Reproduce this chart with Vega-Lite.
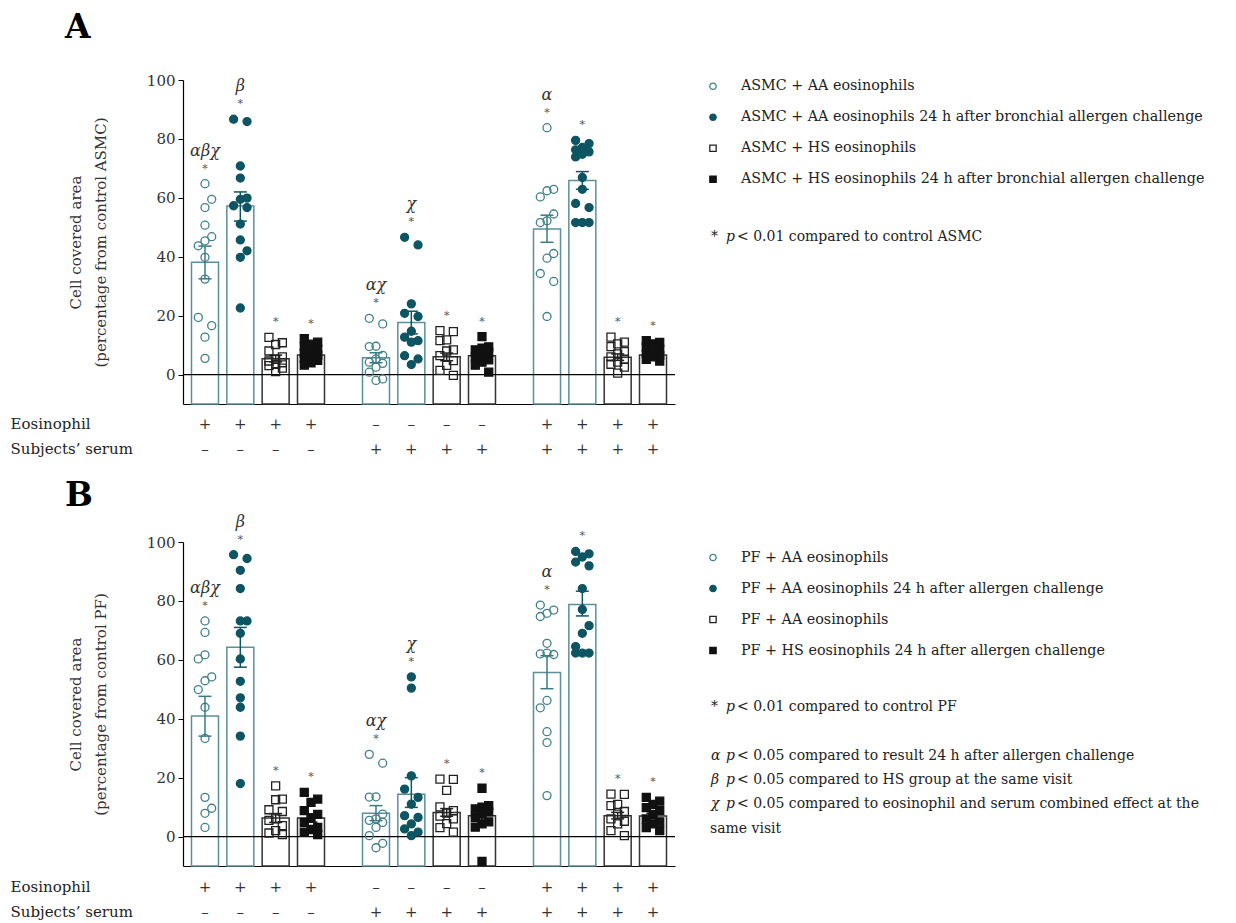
{
  "$schema": "https://vega.github.io/schema/vega-lite/v6.json",
  "background": "white",
  "padding": {"left": 10, "top": 12, "right": 10, "bottom": 0},
  "config": {
    "view": {"stroke": null},
    "font": "DejaVu Serif",
    "axis": {"grid": false, "labelFont": "DejaVu Serif", "titleFont": "DejaVu Serif"},
    "title": {"font": "DejaVu Serif"}
  },
  "datasets": {
    "values": [
      {"panel": "A", "group": "Eos", "series": "AA", "mean": 38.1, "lower": 32.5, "upper": 43.6, "sig": "αβχ"},
      {"panel": "A", "group": "Eos", "series": "AA 24 h", "mean": 57.2, "lower": 52.1, "upper": 62.0, "sig": "β"},
      {"panel": "A", "group": "Eos", "series": "HS", "mean": 5.4, "lower": 4.3, "upper": 6.6, "sig": ""},
      {"panel": "A", "group": "Eos", "series": "HS 24 h", "mean": 6.6, "lower": 5.8, "upper": 7.5, "sig": ""},
      {"panel": "A", "group": "Serum", "series": "AA", "mean": 5.7, "lower": 4.0, "upper": 7.4, "sig": "αχ"},
      {"panel": "A", "group": "Serum", "series": "AA 24 h", "mean": 17.7, "lower": 13.8, "upper": 21.5, "sig": "χ"},
      {"panel": "A", "group": "Serum", "series": "HS", "mean": 6.0, "lower": 4.7, "upper": 7.3, "sig": ""},
      {"panel": "A", "group": "Serum", "series": "HS 24 h", "mean": 6.4, "lower": 5.2, "upper": 7.6, "sig": ""},
      {"panel": "A", "group": "Eos + serum", "series": "AA", "mean": 49.4, "lower": 44.9, "upper": 54.1, "sig": "α"},
      {"panel": "A", "group": "Eos + serum", "series": "AA 24 h", "mean": 65.9, "lower": 62.9, "upper": 68.9, "sig": ""},
      {"panel": "A", "group": "Eos + serum", "series": "HS", "mean": 5.9, "lower": 4.8, "upper": 7.0, "sig": ""},
      {"panel": "A", "group": "Eos + serum", "series": "HS 24 h", "mean": 6.6, "lower": 5.8, "upper": 7.4, "sig": ""},
      {"panel": "B", "group": "Eos", "series": "AA", "mean": 40.9, "lower": 34.1, "upper": 47.6, "sig": "αβχ"},
      {"panel": "B", "group": "Eos", "series": "AA 24 h", "mean": 64.3, "lower": 57.5, "upper": 71.0, "sig": "β"},
      {"panel": "B", "group": "Eos", "series": "HS", "mean": 6.3, "lower": 4.8, "upper": 7.8, "sig": ""},
      {"panel": "B", "group": "Eos", "series": "HS 24 h", "mean": 6.3, "lower": 4.9, "upper": 7.7, "sig": ""},
      {"panel": "B", "group": "Serum", "series": "AA", "mean": 7.9, "lower": 5.4, "upper": 10.5, "sig": "αχ"},
      {"panel": "B", "group": "Serum", "series": "AA 24 h", "mean": 14.4, "lower": 9.9, "upper": 20.0, "sig": "χ"},
      {"panel": "B", "group": "Serum", "series": "HS", "mean": 8.2, "lower": 6.9, "upper": 9.5, "sig": ""},
      {"panel": "B", "group": "Serum", "series": "HS 24 h", "mean": 7.1, "lower": 5.4, "upper": 8.8, "sig": ""},
      {"panel": "B", "group": "Eos + serum", "series": "AA", "mean": 55.7, "lower": 50.2, "upper": 61.4, "sig": "α"},
      {"panel": "B", "group": "Eos + serum", "series": "AA 24 h", "mean": 78.8, "lower": 74.9, "upper": 83.3, "sig": ""},
      {"panel": "B", "group": "Eos + serum", "series": "HS", "mean": 7.1, "lower": 6.0, "upper": 8.2, "sig": ""},
      {"panel": "B", "group": "Eos + serum", "series": "HS 24 h", "mean": 7.0, "lower": 6.1, "upper": 7.9, "sig": ""},

      {"panel": "A", "group": "Eos", "series": "AA", "value": 64.8}, {"panel": "A", "group": "Eos", "series": "AA", "value": 59.5},
      {"panel": "A", "group": "Eos", "series": "AA", "value": 56.7}, {"panel": "A", "group": "Eos", "series": "AA", "value": 50.7},
      {"panel": "A", "group": "Eos", "series": "AA", "value": 46.8}, {"panel": "A", "group": "Eos", "series": "AA", "value": 45.4},
      {"panel": "A", "group": "Eos", "series": "AA", "value": 43.7}, {"panel": "A", "group": "Eos", "series": "AA", "value": 39.8},
      {"panel": "A", "group": "Eos", "series": "AA", "value": 32.4}, {"panel": "A", "group": "Eos", "series": "AA", "value": 19.4},
      {"panel": "A", "group": "Eos", "series": "AA", "value": 16.6}, {"panel": "A", "group": "Eos", "series": "AA", "value": 12.7},
      {"panel": "A", "group": "Eos", "series": "AA", "value": 5.5},
      {"panel": "A", "group": "Eos", "series": "AA 24 h", "value": 86.7}, {"panel": "A", "group": "Eos", "series": "AA 24 h", "value": 85.9},
      {"panel": "A", "group": "Eos", "series": "AA 24 h", "value": 70.8}, {"panel": "A", "group": "Eos", "series": "AA 24 h", "value": 66.7},
      {"panel": "A", "group": "Eos", "series": "AA 24 h", "value": 59.9}, {"panel": "A", "group": "Eos", "series": "AA 24 h", "value": 59.5},
      {"panel": "A", "group": "Eos", "series": "AA 24 h", "value": 57.3}, {"panel": "A", "group": "Eos", "series": "AA 24 h", "value": 56.7},
      {"panel": "A", "group": "Eos", "series": "AA 24 h", "value": 51.1}, {"panel": "A", "group": "Eos", "series": "AA 24 h", "value": 45.7},
      {"panel": "A", "group": "Eos", "series": "AA 24 h", "value": 42.0}, {"panel": "A", "group": "Eos", "series": "AA 24 h", "value": 39.8},
      {"panel": "A", "group": "Eos", "series": "AA 24 h", "value": 22.6},
      {"panel": "A", "group": "Eos", "series": "HS", "value": 12.6}, {"panel": "A", "group": "Eos", "series": "HS", "value": 10.8},
      {"panel": "A", "group": "Eos", "series": "HS", "value": 10.2}, {"panel": "A", "group": "Eos", "series": "HS", "value": 8.0},
      {"panel": "A", "group": "Eos", "series": "HS", "value": 6.0}, {"panel": "A", "group": "Eos", "series": "HS", "value": 5.2},
      {"panel": "A", "group": "Eos", "series": "HS", "value": 4.6}, {"panel": "A", "group": "Eos", "series": "HS", "value": 4.0},
      {"panel": "A", "group": "Eos", "series": "HS", "value": 3.5}, {"panel": "A", "group": "Eos", "series": "HS", "value": 3.0},
      {"panel": "A", "group": "Eos", "series": "HS", "value": 2.2}, {"panel": "A", "group": "Eos", "series": "HS", "value": 1.0},
      {"panel": "A", "group": "Eos", "series": "HS 24 h", "value": 12.2}, {"panel": "A", "group": "Eos", "series": "HS 24 h", "value": 11.0},
      {"panel": "A", "group": "Eos", "series": "HS 24 h", "value": 10.3}, {"panel": "A", "group": "Eos", "series": "HS 24 h", "value": 9.5},
      {"panel": "A", "group": "Eos", "series": "HS 24 h", "value": 8.6}, {"panel": "A", "group": "Eos", "series": "HS 24 h", "value": 7.8},
      {"panel": "A", "group": "Eos", "series": "HS 24 h", "value": 7.2}, {"panel": "A", "group": "Eos", "series": "HS 24 h", "value": 6.6},
      {"panel": "A", "group": "Eos", "series": "HS 24 h", "value": 6.1}, {"panel": "A", "group": "Eos", "series": "HS 24 h", "value": 5.5},
      {"panel": "A", "group": "Eos", "series": "HS 24 h", "value": 4.8}, {"panel": "A", "group": "Eos", "series": "HS 24 h", "value": 4.0},
      {"panel": "A", "group": "Eos", "series": "HS 24 h", "value": 3.2},
      {"panel": "A", "group": "Serum", "series": "AA", "value": 19.1}, {"panel": "A", "group": "Serum", "series": "AA", "value": 17.2},
      {"panel": "A", "group": "Serum", "series": "AA", "value": 9.6}, {"panel": "A", "group": "Serum", "series": "AA", "value": 9.5},
      {"panel": "A", "group": "Serum", "series": "AA", "value": 6.5}, {"panel": "A", "group": "Serum", "series": "AA", "value": 5.3},
      {"panel": "A", "group": "Serum", "series": "AA", "value": 4.2}, {"panel": "A", "group": "Serum", "series": "AA", "value": 3.8},
      {"panel": "A", "group": "Serum", "series": "AA", "value": 2.5}, {"panel": "A", "group": "Serum", "series": "AA", "value": 0.8},
      {"panel": "A", "group": "Serum", "series": "AA", "value": -1.5}, {"panel": "A", "group": "Serum", "series": "AA", "value": -2.0},
      {"panel": "A", "group": "Serum", "series": "AA 24 h", "value": 46.6}, {"panel": "A", "group": "Serum", "series": "AA 24 h", "value": 44.0},
      {"panel": "A", "group": "Serum", "series": "AA 24 h", "value": 24.0}, {"panel": "A", "group": "Serum", "series": "AA 24 h", "value": 20.8},
      {"panel": "A", "group": "Serum", "series": "AA 24 h", "value": 19.7}, {"panel": "A", "group": "Serum", "series": "AA 24 h", "value": 14.7},
      {"panel": "A", "group": "Serum", "series": "AA 24 h", "value": 12.7}, {"panel": "A", "group": "Serum", "series": "AA 24 h", "value": 11.5},
      {"panel": "A", "group": "Serum", "series": "AA 24 h", "value": 11.0}, {"panel": "A", "group": "Serum", "series": "AA 24 h", "value": 6.4},
      {"panel": "A", "group": "Serum", "series": "AA 24 h", "value": 5.3}, {"panel": "A", "group": "Serum", "series": "AA 24 h", "value": 3.4},
      {"panel": "A", "group": "Serum", "series": "HS", "value": 14.9}, {"panel": "A", "group": "Serum", "series": "HS", "value": 14.6},
      {"panel": "A", "group": "Serum", "series": "HS", "value": 11.8}, {"panel": "A", "group": "Serum", "series": "HS", "value": 11.5},
      {"panel": "A", "group": "Serum", "series": "HS", "value": 8.4}, {"panel": "A", "group": "Serum", "series": "HS", "value": 8.0},
      {"panel": "A", "group": "Serum", "series": "HS", "value": 6.4}, {"panel": "A", "group": "Serum", "series": "HS", "value": 4.7},
      {"panel": "A", "group": "Serum", "series": "HS", "value": 3.1}, {"panel": "A", "group": "Serum", "series": "HS", "value": 1.4},
      {"panel": "A", "group": "Serum", "series": "HS", "value": -0.3},
      {"panel": "A", "group": "Serum", "series": "HS 24 h", "value": 12.9}, {"panel": "A", "group": "Serum", "series": "HS 24 h", "value": 9.4},
      {"panel": "A", "group": "Serum", "series": "HS 24 h", "value": 9.0}, {"panel": "A", "group": "Serum", "series": "HS 24 h", "value": 8.4},
      {"panel": "A", "group": "Serum", "series": "HS 24 h", "value": 7.6}, {"panel": "A", "group": "Serum", "series": "HS 24 h", "value": 6.4},
      {"panel": "A", "group": "Serum", "series": "HS 24 h", "value": 5.9}, {"panel": "A", "group": "Serum", "series": "HS 24 h", "value": 5.0},
      {"panel": "A", "group": "Serum", "series": "HS 24 h", "value": 4.2}, {"panel": "A", "group": "Serum", "series": "HS 24 h", "value": 3.2},
      {"panel": "A", "group": "Serum", "series": "HS 24 h", "value": 0.8},
      {"panel": "A", "group": "Eos + serum", "series": "AA", "value": 83.8}, {"panel": "A", "group": "Eos + serum", "series": "AA", "value": 62.9},
      {"panel": "A", "group": "Eos + serum", "series": "AA", "value": 62.4}, {"panel": "A", "group": "Eos + serum", "series": "AA", "value": 60.3},
      {"panel": "A", "group": "Eos + serum", "series": "AA", "value": 54.5}, {"panel": "A", "group": "Eos + serum", "series": "AA", "value": 52.2},
      {"panel": "A", "group": "Eos + serum", "series": "AA", "value": 51.6}, {"panel": "A", "group": "Eos + serum", "series": "AA", "value": 41.1},
      {"panel": "A", "group": "Eos + serum", "series": "AA", "value": 39.5}, {"panel": "A", "group": "Eos + serum", "series": "AA", "value": 34.3},
      {"panel": "A", "group": "Eos + serum", "series": "AA", "value": 31.6}, {"panel": "A", "group": "Eos + serum", "series": "AA", "value": 19.7},
      {"panel": "A", "group": "Eos + serum", "series": "AA 24 h", "value": 79.5}, {"panel": "A", "group": "Eos + serum", "series": "AA 24 h", "value": 78.4},
      {"panel": "A", "group": "Eos + serum", "series": "AA 24 h", "value": 77.1}, {"panel": "A", "group": "Eos + serum", "series": "AA 24 h", "value": 76.3},
      {"panel": "A", "group": "Eos + serum", "series": "AA 24 h", "value": 75.6}, {"panel": "A", "group": "Eos + serum", "series": "AA 24 h", "value": 74.8},
      {"panel": "A", "group": "Eos + serum", "series": "AA 24 h", "value": 73.9}, {"panel": "A", "group": "Eos + serum", "series": "AA 24 h", "value": 66.9},
      {"panel": "A", "group": "Eos + serum", "series": "AA 24 h", "value": 62.9}, {"panel": "A", "group": "Eos + serum", "series": "AA 24 h", "value": 58.1},
      {"panel": "A", "group": "Eos + serum", "series": "AA 24 h", "value": 56.7}, {"panel": "A", "group": "Eos + serum", "series": "AA 24 h", "value": 51.6},
      {"panel": "A", "group": "Eos + serum", "series": "AA 24 h", "value": 51.6}, {"panel": "A", "group": "Eos + serum", "series": "AA 24 h", "value": 51.6},
      {"panel": "A", "group": "Eos + serum", "series": "HS", "value": 12.7}, {"panel": "A", "group": "Eos + serum", "series": "HS", "value": 11.0},
      {"panel": "A", "group": "Eos + serum", "series": "HS", "value": 10.4}, {"panel": "A", "group": "Eos + serum", "series": "HS", "value": 9.5},
      {"panel": "A", "group": "Eos + serum", "series": "HS", "value": 7.8}, {"panel": "A", "group": "Eos + serum", "series": "HS", "value": 7.0},
      {"panel": "A", "group": "Eos + serum", "series": "HS", "value": 6.0}, {"panel": "A", "group": "Eos + serum", "series": "HS", "value": 5.2},
      {"panel": "A", "group": "Eos + serum", "series": "HS", "value": 4.2}, {"panel": "A", "group": "Eos + serum", "series": "HS", "value": 3.5},
      {"panel": "A", "group": "Eos + serum", "series": "HS", "value": 2.5}, {"panel": "A", "group": "Eos + serum", "series": "HS", "value": 0.5},
      {"panel": "A", "group": "Eos + serum", "series": "HS 24 h", "value": 11.5}, {"panel": "A", "group": "Eos + serum", "series": "HS 24 h", "value": 10.9},
      {"panel": "A", "group": "Eos + serum", "series": "HS 24 h", "value": 10.4}, {"panel": "A", "group": "Eos + serum", "series": "HS 24 h", "value": 9.3},
      {"panel": "A", "group": "Eos + serum", "series": "HS 24 h", "value": 8.5}, {"panel": "A", "group": "Eos + serum", "series": "HS 24 h", "value": 7.6},
      {"panel": "A", "group": "Eos + serum", "series": "HS 24 h", "value": 7.0}, {"panel": "A", "group": "Eos + serum", "series": "HS 24 h", "value": 6.5},
      {"panel": "A", "group": "Eos + serum", "series": "HS 24 h", "value": 6.0}, {"panel": "A", "group": "Eos + serum", "series": "HS 24 h", "value": 5.2},
      {"panel": "A", "group": "Eos + serum", "series": "HS 24 h", "value": 4.6},

      {"panel": "B", "group": "Eos", "series": "AA", "value": 73.2}, {"panel": "B", "group": "Eos", "series": "AA", "value": 69.3},
      {"panel": "B", "group": "Eos", "series": "AA", "value": 61.7}, {"panel": "B", "group": "Eos", "series": "AA", "value": 60.3},
      {"panel": "B", "group": "Eos", "series": "AA", "value": 54.2}, {"panel": "B", "group": "Eos", "series": "AA", "value": 52.9},
      {"panel": "B", "group": "Eos", "series": "AA", "value": 49.9}, {"panel": "B", "group": "Eos", "series": "AA", "value": 43.9},
      {"panel": "B", "group": "Eos", "series": "AA", "value": 33.3}, {"panel": "B", "group": "Eos", "series": "AA", "value": 13.3},
      {"panel": "B", "group": "Eos", "series": "AA", "value": 9.6}, {"panel": "B", "group": "Eos", "series": "AA", "value": 7.9},
      {"panel": "B", "group": "Eos", "series": "AA", "value": 3.1},
      {"panel": "B", "group": "Eos", "series": "AA 24 h", "value": 95.7}, {"panel": "B", "group": "Eos", "series": "AA 24 h", "value": 94.4},
      {"panel": "B", "group": "Eos", "series": "AA 24 h", "value": 90.4}, {"panel": "B", "group": "Eos", "series": "AA 24 h", "value": 84.2},
      {"panel": "B", "group": "Eos", "series": "AA 24 h", "value": 73.2}, {"panel": "B", "group": "Eos", "series": "AA 24 h", "value": 73.2},
      {"panel": "B", "group": "Eos", "series": "AA 24 h", "value": 69.0}, {"panel": "B", "group": "Eos", "series": "AA 24 h", "value": 60.3},
      {"panel": "B", "group": "Eos", "series": "AA 24 h", "value": 52.7}, {"panel": "B", "group": "Eos", "series": "AA 24 h", "value": 47.1},
      {"panel": "B", "group": "Eos", "series": "AA 24 h", "value": 43.9}, {"panel": "B", "group": "Eos", "series": "AA 24 h", "value": 34.1},
      {"panel": "B", "group": "Eos", "series": "AA 24 h", "value": 18.0},
      {"panel": "B", "group": "Eos", "series": "HS", "value": 17.2}, {"panel": "B", "group": "Eos", "series": "HS", "value": 12.7},
      {"panel": "B", "group": "Eos", "series": "HS", "value": 12.5}, {"panel": "B", "group": "Eos", "series": "HS", "value": 9.1},
      {"panel": "B", "group": "Eos", "series": "HS", "value": 8.5}, {"panel": "B", "group": "Eos", "series": "HS", "value": 6.0},
      {"panel": "B", "group": "Eos", "series": "HS", "value": 5.5}, {"panel": "B", "group": "Eos", "series": "HS", "value": 3.7},
      {"panel": "B", "group": "Eos", "series": "HS", "value": 2.0}, {"panel": "B", "group": "Eos", "series": "HS", "value": 1.2},
      {"panel": "B", "group": "Eos", "series": "HS", "value": 0.7},
      {"panel": "B", "group": "Eos", "series": "HS 24 h", "value": 15.0}, {"panel": "B", "group": "Eos", "series": "HS 24 h", "value": 12.7},
      {"panel": "B", "group": "Eos", "series": "HS 24 h", "value": 11.6}, {"panel": "B", "group": "Eos", "series": "HS 24 h", "value": 8.8},
      {"panel": "B", "group": "Eos", "series": "HS 24 h", "value": 7.5}, {"panel": "B", "group": "Eos", "series": "HS 24 h", "value": 6.3},
      {"panel": "B", "group": "Eos", "series": "HS 24 h", "value": 4.8}, {"panel": "B", "group": "Eos", "series": "HS 24 h", "value": 3.1},
      {"panel": "B", "group": "Eos", "series": "HS 24 h", "value": 2.4}, {"panel": "B", "group": "Eos", "series": "HS 24 h", "value": 1.5},
      {"panel": "B", "group": "Eos", "series": "HS 24 h", "value": 0.7},
      {"panel": "B", "group": "Serum", "series": "AA", "value": 27.9}, {"panel": "B", "group": "Serum", "series": "AA", "value": 24.9},
      {"panel": "B", "group": "Serum", "series": "AA", "value": 13.5}, {"panel": "B", "group": "Serum", "series": "AA", "value": 13.4},
      {"panel": "B", "group": "Serum", "series": "AA", "value": 7.6}, {"panel": "B", "group": "Serum", "series": "AA", "value": 6.0},
      {"panel": "B", "group": "Serum", "series": "AA", "value": 5.5}, {"panel": "B", "group": "Serum", "series": "AA", "value": 4.8},
      {"panel": "B", "group": "Serum", "series": "AA", "value": 3.1}, {"panel": "B", "group": "Serum", "series": "AA", "value": 0.3},
      {"panel": "B", "group": "Serum", "series": "AA", "value": -2.3}, {"panel": "B", "group": "Serum", "series": "AA", "value": -3.8},
      {"panel": "B", "group": "Serum", "series": "AA 24 h", "value": 54.2}, {"panel": "B", "group": "Serum", "series": "AA 24 h", "value": 50.4},
      {"panel": "B", "group": "Serum", "series": "AA 24 h", "value": 20.6}, {"panel": "B", "group": "Serum", "series": "AA 24 h", "value": 16.1},
      {"panel": "B", "group": "Serum", "series": "AA 24 h", "value": 13.3}, {"panel": "B", "group": "Serum", "series": "AA 24 h", "value": 11.0},
      {"panel": "B", "group": "Serum", "series": "AA 24 h", "value": 7.1}, {"panel": "B", "group": "Serum", "series": "AA 24 h", "value": 6.5},
      {"panel": "B", "group": "Serum", "series": "AA 24 h", "value": 4.3}, {"panel": "B", "group": "Serum", "series": "AA 24 h", "value": 2.6},
      {"panel": "B", "group": "Serum", "series": "AA 24 h", "value": 1.5}, {"panel": "B", "group": "Serum", "series": "AA 24 h", "value": 0.3},
      {"panel": "B", "group": "Serum", "series": "HS", "value": 19.5}, {"panel": "B", "group": "Serum", "series": "HS", "value": 19.4},
      {"panel": "B", "group": "Serum", "series": "HS", "value": 15.7}, {"panel": "B", "group": "Serum", "series": "HS", "value": 10.1},
      {"panel": "B", "group": "Serum", "series": "HS", "value": 8.8}, {"panel": "B", "group": "Serum", "series": "HS", "value": 8.0},
      {"panel": "B", "group": "Serum", "series": "HS", "value": 6.9}, {"panel": "B", "group": "Serum", "series": "HS", "value": 6.0},
      {"panel": "B", "group": "Serum", "series": "HS", "value": 4.4}, {"panel": "B", "group": "Serum", "series": "HS", "value": 3.0},
      {"panel": "B", "group": "Serum", "series": "HS", "value": 1.5},
      {"panel": "B", "group": "Serum", "series": "HS 24 h", "value": 16.4}, {"panel": "B", "group": "Serum", "series": "HS 24 h", "value": 10.5},
      {"panel": "B", "group": "Serum", "series": "HS 24 h", "value": 10.0}, {"panel": "B", "group": "Serum", "series": "HS 24 h", "value": 9.4},
      {"panel": "B", "group": "Serum", "series": "HS 24 h", "value": 8.4}, {"panel": "B", "group": "Serum", "series": "HS 24 h", "value": 7.6},
      {"panel": "B", "group": "Serum", "series": "HS 24 h", "value": 6.4}, {"panel": "B", "group": "Serum", "series": "HS 24 h", "value": 5.0},
      {"panel": "B", "group": "Serum", "series": "HS 24 h", "value": 4.3}, {"panel": "B", "group": "Serum", "series": "HS 24 h", "value": 3.2},
      {"panel": "B", "group": "Serum", "series": "HS 24 h", "value": -8.4},
      {"panel": "B", "group": "Eos + serum", "series": "AA", "value": 78.6}, {"panel": "B", "group": "Eos + serum", "series": "AA", "value": 76.9},
      {"panel": "B", "group": "Eos + serum", "series": "AA", "value": 75.8}, {"panel": "B", "group": "Eos + serum", "series": "AA", "value": 74.7},
      {"panel": "B", "group": "Eos + serum", "series": "AA", "value": 65.6}, {"panel": "B", "group": "Eos + serum", "series": "AA", "value": 62.3},
      {"panel": "B", "group": "Eos + serum", "series": "AA", "value": 62.0}, {"panel": "B", "group": "Eos + serum", "series": "AA", "value": 61.8},
      {"panel": "B", "group": "Eos + serum", "series": "AA", "value": 46.2}, {"panel": "B", "group": "Eos + serum", "series": "AA", "value": 43.7},
      {"panel": "B", "group": "Eos + serum", "series": "AA", "value": 35.6}, {"panel": "B", "group": "Eos + serum", "series": "AA", "value": 31.9},
      {"panel": "B", "group": "Eos + serum", "series": "AA", "value": 13.9},
      {"panel": "B", "group": "Eos + serum", "series": "AA 24 h", "value": 96.8}, {"panel": "B", "group": "Eos + serum", "series": "AA 24 h", "value": 96.0},
      {"panel": "B", "group": "Eos + serum", "series": "AA 24 h", "value": 94.9}, {"panel": "B", "group": "Eos + serum", "series": "AA 24 h", "value": 93.2},
      {"panel": "B", "group": "Eos + serum", "series": "AA 24 h", "value": 91.9}, {"panel": "B", "group": "Eos + serum", "series": "AA 24 h", "value": 84.2},
      {"panel": "B", "group": "Eos + serum", "series": "AA 24 h", "value": 77.1}, {"panel": "B", "group": "Eos + serum", "series": "AA 24 h", "value": 71.6},
      {"panel": "B", "group": "Eos + serum", "series": "AA 24 h", "value": 69.0}, {"panel": "B", "group": "Eos + serum", "series": "AA 24 h", "value": 64.5},
      {"panel": "B", "group": "Eos + serum", "series": "AA 24 h", "value": 62.3}, {"panel": "B", "group": "Eos + serum", "series": "AA 24 h", "value": 62.3},
      {"panel": "B", "group": "Eos + serum", "series": "AA 24 h", "value": 62.3},
      {"panel": "B", "group": "Eos + serum", "series": "HS", "value": 14.4}, {"panel": "B", "group": "Eos + serum", "series": "HS", "value": 14.3},
      {"panel": "B", "group": "Eos + serum", "series": "HS", "value": 10.9}, {"panel": "B", "group": "Eos + serum", "series": "HS", "value": 10.5},
      {"panel": "B", "group": "Eos + serum", "series": "HS", "value": 8.5}, {"panel": "B", "group": "Eos + serum", "series": "HS", "value": 7.6},
      {"panel": "B", "group": "Eos + serum", "series": "HS", "value": 6.0}, {"panel": "B", "group": "Eos + serum", "series": "HS", "value": 5.2},
      {"panel": "B", "group": "Eos + serum", "series": "HS", "value": 4.3}, {"panel": "B", "group": "Eos + serum", "series": "HS", "value": 2.0},
      {"panel": "B", "group": "Eos + serum", "series": "HS", "value": 0.3},
      {"panel": "B", "group": "Eos + serum", "series": "HS 24 h", "value": 13.3}, {"panel": "B", "group": "Eos + serum", "series": "HS 24 h", "value": 12.0},
      {"panel": "B", "group": "Eos + serum", "series": "HS 24 h", "value": 10.9}, {"panel": "B", "group": "Eos + serum", "series": "HS 24 h", "value": 9.8},
      {"panel": "B", "group": "Eos + serum", "series": "HS 24 h", "value": 8.8}, {"panel": "B", "group": "Eos + serum", "series": "HS 24 h", "value": 7.5},
      {"panel": "B", "group": "Eos + serum", "series": "HS 24 h", "value": 6.0}, {"panel": "B", "group": "Eos + serum", "series": "HS 24 h", "value": 5.0},
      {"panel": "B", "group": "Eos + serum", "series": "HS 24 h", "value": 4.3}, {"panel": "B", "group": "Eos + serum", "series": "HS 24 h", "value": 3.0},
      {"panel": "B", "group": "Eos + serum", "series": "HS 24 h", "value": 2.0}
    ],
    "design": [
      {"group": "Eos", "series": "AA", "factor": "Eosinophil", "sign": "+"},
      {"group": "Eos", "series": "AA 24 h", "factor": "Eosinophil", "sign": "+"},
      {"group": "Eos", "series": "HS", "factor": "Eosinophil", "sign": "+"},
      {"group": "Eos", "series": "HS 24 h", "factor": "Eosinophil", "sign": "+"},
      {"group": "Serum", "series": "AA", "factor": "Eosinophil", "sign": "–"},
      {"group": "Serum", "series": "AA 24 h", "factor": "Eosinophil", "sign": "–"},
      {"group": "Serum", "series": "HS", "factor": "Eosinophil", "sign": "–"},
      {"group": "Serum", "series": "HS 24 h", "factor": "Eosinophil", "sign": "–"},
      {"group": "Eos + serum", "series": "AA", "factor": "Eosinophil", "sign": "+"},
      {"group": "Eos + serum", "series": "AA 24 h", "factor": "Eosinophil", "sign": "+"},
      {"group": "Eos + serum", "series": "HS", "factor": "Eosinophil", "sign": "+"},
      {"group": "Eos + serum", "series": "HS 24 h", "factor": "Eosinophil", "sign": "+"},
      {"group": "Eos", "series": "AA", "factor": "Subjects’ serum", "sign": "–"},
      {"group": "Eos", "series": "AA 24 h", "factor": "Subjects’ serum", "sign": "–"},
      {"group": "Eos", "series": "HS", "factor": "Subjects’ serum", "sign": "–"},
      {"group": "Eos", "series": "HS 24 h", "factor": "Subjects’ serum", "sign": "–"},
      {"group": "Serum", "series": "AA", "factor": "Subjects’ serum", "sign": "+"},
      {"group": "Serum", "series": "AA 24 h", "factor": "Subjects’ serum", "sign": "+"},
      {"group": "Serum", "series": "HS", "factor": "Subjects’ serum", "sign": "+"},
      {"group": "Serum", "series": "HS 24 h", "factor": "Subjects’ serum", "sign": "+"},
      {"group": "Eos + serum", "series": "AA", "factor": "Subjects’ serum", "sign": "+"},
      {"group": "Eos + serum", "series": "AA 24 h", "factor": "Subjects’ serum", "sign": "+"},
      {"group": "Eos + serum", "series": "HS", "factor": "Subjects’ serum", "sign": "+"},
      {"group": "Eos + serum", "series": "HS 24 h", "factor": "Subjects’ serum", "sign": "+"}
    ],
    "legend": [
      {"panel": "A", "item": 1, "series": "AA", "label": "ASMC + AA eosinophils"},
      {"panel": "A", "item": 2, "series": "AA 24 h", "label": "ASMC + AA eosinophils 24 h after bronchial allergen challenge"},
      {"panel": "A", "item": 3, "series": "HS", "label": "ASMC + HS eosinophils"},
      {"panel": "A", "item": 4, "series": "HS 24 h", "label": "ASMC + HS  eosinophils 24 h after bronchial allergen challenge"},
      {"panel": "B", "item": 1, "series": "AA", "label": "PF + AA eosinophils"},
      {"panel": "B", "item": 2, "series": "AA 24 h", "label": "PF + AA eosinophils 24 h after allergen challenge"},
      {"panel": "B", "item": 3, "series": "HS", "label": "PF + AA eosinophils"},
      {"panel": "B", "item": 4, "series": "HS 24 h", "label": "PF  + HS  eosinophils 24 h after allergen challenge"}
    ],
    "notes": [
      {"panel": "A", "line": 0, "lead": "*", "p": "p", "text": "< 0.01 compared to control ASMC"},
      {"panel": "B", "line": 0, "lead": "*", "p": "p", "text": "< 0.01 compared to control PF"},
      {"panel": "B", "line": 2, "lead": "α", "p": "p", "text": "< 0.05 compared to result 24 h after allergen challenge"},
      {"panel": "B", "line": 3, "lead": "β", "p": "p", "text": "< 0.05 compared to HS group at the same visit"},
      {"panel": "B", "line": 4, "lead": "χ", "p": "p", "text": "< 0.05 compared to eosinophil and serum combined effect at the"},
      {"panel": "B", "line": 5, "cont": "same visit"}
    ]
  },
  "spacing": 18,
  "vconcat": [
    {
      "title": {"text": "A", "anchor": "start", "frame": "bounds", "fontSize": 33, "fontWeight": "bold", "color": "black", "baseline": "alphabetic", "dx": 55, "offset": 2},
      "spacing": 31,
      "hconcat": [
        {
          "spacing": 6,
          "vconcat": [
            {
              "width": 492,
              "height": 324,
              "data": {"name": "values"},
              "resolve": {"scale": {"xOffset": "independent", "stroke": "independent"}},
              "layer": [
                {
                  "transform": [{"filter": "datum.panel === 'A' && isValid(datum.mean)"}],
                  "mark": {"type": "bar", "fill": "white", "strokeWidth": 1.5},
                  "encoding": {
                    "x": {"field": "group", "type": "nominal", "sort": ["Eos", "Serum", "Eos + serum"], "scale": {"paddingInner": 0.1735, "paddingOuter": 0.0253}, "axis": {"title": null, "labels": false, "ticks": false, "domainColor": "black", "domainWidth": 1.2}},
                    "xOffset": {"field": "series", "type": "nominal", "scale": {"type": "band", "domain": ["AA", "AA 24 h", "HS", "HS 24 h"], "paddingInner": 0.236, "paddingOuter": 0.118}},
                    "y": {"field": "mean", "type": "quantitative", "scale": {"domain": [-10, 100], "nice": false, "zero": false},
                      "axis": {"values": [0, 20, 40, 60, 80, 100], "tickSize": 5, "tickColor": "black", "domainColor": "black", "domainWidth": 1.2, "labelFontSize": 15, "labelColor": "#333", "labelPadding": 3,
                        "title": ["Cell covered area", "(percentage from control ASMC)"], "titleFontSize": 15, "titleFontWeight": "normal", "titleColor": "#333", "titlePadding": 38, "titleLineHeight": 25}},
                    "y2": {"datum": -10},
                    "stroke": {"field": "series", "type": "nominal", "scale": {"domain": ["AA", "AA 24 h", "HS", "HS 24 h"], "range": ["#5a9099", "#5a9099", "#333333", "#333333"]}, "legend": null}
                  }
                },
                {
                  "transform": [{"filter": "datum.panel === 'A'"}, {"aggregate": [{"op": "count", "as": "n"}]}],
                  "mark": {"type": "rule", "color": "black", "strokeWidth": 1.2},
                  "encoding": {"y": {"datum": 0}}
                },
                {
                  "transform": [
                    {"filter": "datum.panel === 'A' && isValid(datum.value)"},
                    {"window": [{"op": "row_number", "as": "rank"}, {"op": "lag", "field": "value", "as": "prev"}, {"op": "lead", "field": "value", "as": "next"}], "groupby": ["group", "series"], "sort": [{"field": "value", "order": "descending"}]},
                    {"calculate": "((isValid(datum.prev) && datum.prev - datum.value < 3.2) || (isValid(datum.next) && datum.value - datum.next < 3.2)) ? [0, -1, 1][datum.rank % 3] : 0", "as": "lane"},
                    {"calculate": "indexof(['AA', 'AA 24 h', 'HS', 'HS 24 h'], datum.series) + 0.19 * datum.lane", "as": "slot"}
                  ],
                  "mark": {"type": "point", "opacity": 1, "strokeWidth": 1.3, "size": 64},
                  "encoding": {
                    "x": {"field": "group", "type": "nominal", "sort": ["Eos", "Serum", "Eos + serum"]},
                    "xOffset": {"field": "slot", "type": "quantitative", "scale": {"domain": [-0.5, 3.5], "range": [0, 141.33], "nice": false, "zero": false}},
                    "y": {"field": "value", "type": "quantitative"},
                    "shape": {"field": "series", "type": "nominal", "scale": {"domain": ["AA", "AA 24 h", "HS", "HS 24 h"], "range": ["circle", "circle", "square", "square"]}, "legend": null},
                    "fill": {"field": "series", "type": "nominal", "scale": {"domain": ["AA", "AA 24 h", "HS", "HS 24 h"], "range": ["transparent", "#0d5562", "transparent", "#111111"]}, "legend": null},
                    "stroke": {"field": "series", "type": "nominal", "scale": {"domain": ["AA", "AA 24 h", "HS", "HS 24 h"], "range": ["#3f7f8a", "#0d5562", "#222222", "#111111"]}, "legend": null}
                  }
                },
                {
                  "transform": [{"filter": "datum.panel === 'A' && isValid(datum.mean)"}],
                  "mark": {"type": "rule", "strokeWidth": 1.5},
                  "encoding": {
                    "x": {"field": "group", "type": "nominal", "sort": ["Eos", "Serum", "Eos + serum"]},
                    "xOffset": {"field": "series", "type": "nominal", "scale": {"type": "band", "domain": ["AA", "AA 24 h", "HS", "HS 24 h"], "paddingInner": 0.236, "paddingOuter": 0.118}},
                    "y": {"field": "lower", "type": "quantitative"},
                    "y2": {"field": "upper"},
                    "color": {"field": "series", "type": "nominal", "scale": {"domain": ["AA", "AA 24 h", "HS", "HS 24 h"], "range": ["#3a7a85", "#0d5562", "#222222", "#111111"]}, "legend": null}
                  }
                },
                {
                  "transform": [{"filter": "datum.panel === 'A' && isValid(datum.mean)"}, {"fold": ["lower", "upper"], "as": ["end", "bound"]}],
                  "mark": {"type": "tick", "thickness": 1.5, "size": 13, "opacity": 1},
                  "encoding": {
                    "x": {"field": "group", "type": "nominal", "sort": ["Eos", "Serum", "Eos + serum"]},
                    "xOffset": {"field": "series", "type": "nominal", "scale": {"type": "band", "domain": ["AA", "AA 24 h", "HS", "HS 24 h"], "paddingInner": 0.236, "paddingOuter": 0.118}},
                    "y": {"field": "bound", "type": "quantitative"},
                    "color": {"field": "series", "type": "nominal", "legend": null}
                  }
                },
                {
                  "transform": [{"filter": "datum.panel === 'A'"}, {"joinaggregate": [{"op": "max", "field": "value", "as": "top"}], "groupby": ["group", "series"]}, {"filter": "isValid(datum.mean)"}],
                  "mark": {"type": "text", "text": "*", "dy": -15, "fontSize": 11, "color": "#555"},
                  "encoding": {
                    "x": {"field": "group", "type": "nominal", "sort": ["Eos", "Serum", "Eos + serum"]},
                    "xOffset": {"field": "series", "type": "nominal", "scale": {"type": "band", "domain": ["AA", "AA 24 h", "HS", "HS 24 h"], "paddingInner": 0.236, "paddingOuter": 0.118}},
                    "y": {"field": "top", "type": "quantitative"}
                  }
                },
                {
                  "transform": [{"filter": "datum.panel === 'A'"}, {"joinaggregate": [{"op": "max", "field": "value", "as": "top"}], "groupby": ["group", "series"]}, {"filter": "isValid(datum.mean) && datum.sig !== ''"}],
                  "mark": {"type": "text", "dy": -33, "fontSize": 16, "fontStyle": "italic", "color": "#333"},
                  "encoding": {
                    "x": {"field": "group", "type": "nominal", "sort": ["Eos", "Serum", "Eos + serum"]},
                    "xOffset": {"field": "series", "type": "nominal", "scale": {"type": "band", "domain": ["AA", "AA 24 h", "HS", "HS 24 h"], "paddingInner": 0.236, "paddingOuter": 0.118}},
                    "y": {"field": "top", "type": "quantitative"},
                    "text": {"field": "sig"}
                  }
                }
              ]
            },
            {
              "width": 492,
              "height": {"step": 25},
              "data": {"name": "design"},
              "mark": {"type": "text", "fontSize": 15, "color": "#333"},
              "encoding": {
                "x": {"field": "group", "type": "nominal", "sort": ["Eos", "Serum", "Eos + serum"], "scale": {"type": "band", "paddingInner": 0.1735, "paddingOuter": 0.0253}, "axis": null},
                "xOffset": {"field": "series", "type": "nominal", "scale": {"type": "band", "domain": ["AA", "AA 24 h", "HS", "HS 24 h"], "paddingInner": 0.236, "paddingOuter": 0.118}},
                "y": {"field": "factor", "type": "nominal", "sort": ["Eosinophil", "Subjects’ serum"], "scale": {"type": "point", "padding": 0.5},
                  "axis": {"title": null, "domain": false, "ticks": false, "labelAlign": "left", "labelPadding": 173, "labelFontSize": 15, "labelColor": "#222"}},
                "text": {"field": "sign"}
              }
            }
          ]
        },
        {
          "spacing": 38,
          "vconcat": [
            {
              "width": 500,
              "height": {"step": 31},
              "data": {"name": "legend"},
              "transform": [{"filter": "datum.panel === 'A'"}],
              "encoding": {
                "y": {"field": "item", "type": "ordinal", "scale": {"type": "point", "padding": 0.2}, "axis": null},
                "x": {"datum": 0, "type": "quantitative", "scale": {"domain": [0, 1]}, "axis": null}
              },
              "layer": [
                {
                  "mark": {"type": "point", "opacity": 1, "strokeWidth": 1.3, "size": 40},
                  "encoding": {
                    "shape": {"field": "series", "type": "nominal", "scale": {"domain": ["AA", "AA 24 h", "HS", "HS 24 h"], "range": ["circle", "circle", "square", "square"]}, "legend": null},
                    "fill": {"field": "series", "type": "nominal", "scale": {"domain": ["AA", "AA 24 h", "HS", "HS 24 h"], "range": ["transparent", "#0d5562", "transparent", "#111111"]}, "legend": null},
                    "stroke": {"field": "series", "type": "nominal", "scale": {"domain": ["AA", "AA 24 h", "HS", "HS 24 h"], "range": ["#3f7f8a", "#0d5562", "#222222", "#111111"]}, "legend": null}
                  }
                },
                {
                  "mark": {"type": "text", "align": "left", "dx": 28, "fontSize": 14.3, "color": "#222"},
                  "encoding": {"text": {"field": "label"}}
                }
              ]
            },
            {
              "width": 500,
              "height": {"step": 24.3},
              "data": {"name": "notes"},
              "transform": [{"filter": "datum.panel === 'A'"}],
              "encoding": {
                "y": {"field": "line", "type": "ordinal", "scale": {"type": "point", "padding": 0.5, "domain": [0]}, "axis": null},
                "x": {"datum": 0, "type": "quantitative", "scale": {"domain": [0, 1]}, "axis": null}
              },
              "layer": [
                {"transform": [{"filter": "isValid(datum.lead)"}], "mark": {"type": "text", "align": "left", "dx": -2, "fontSize": 14, "fontStyle": "italic", "color": "#222"}, "encoding": {"text": {"field": "lead"}}},
                {"transform": [{"filter": "isValid(datum.p)"}], "mark": {"type": "text", "align": "left", "dx": 13, "fontSize": 14, "fontStyle": "italic", "color": "#222"}, "encoding": {"text": {"field": "p"}}},
                {"transform": [{"filter": "isValid(datum.text)"}], "mark": {"type": "text", "align": "left", "dx": 24, "fontSize": 14, "color": "#222"}, "encoding": {"text": {"field": "text"}}}
              ]
            }
          ]
        }
      ]
    },
    {
      "title": {"text": "B", "anchor": "start", "frame": "bounds", "fontSize": 33, "fontWeight": "bold", "color": "black", "baseline": "alphabetic", "dx": 55, "offset": -25},
      "spacing": 31,
      "hconcat": [
        {
          "spacing": 6,
          "vconcat": [
            {
              "width": 492,
              "height": 324,
              "data": {"name": "values"},
              "resolve": {"scale": {"xOffset": "independent", "stroke": "independent"}},
              "layer": [
                {
                  "transform": [{"filter": "datum.panel === 'B' && isValid(datum.mean)"}],
                  "mark": {"type": "bar", "fill": "white", "strokeWidth": 1.5},
                  "encoding": {
                    "x": {"field": "group", "type": "nominal", "sort": ["Eos", "Serum", "Eos + serum"], "scale": {"paddingInner": 0.1735, "paddingOuter": 0.0253}, "axis": {"title": null, "labels": false, "ticks": false, "domainColor": "black", "domainWidth": 1.2}},
                    "xOffset": {"field": "series", "type": "nominal", "scale": {"type": "band", "domain": ["AA", "AA 24 h", "HS", "HS 24 h"], "paddingInner": 0.236, "paddingOuter": 0.118}},
                    "y": {"field": "mean", "type": "quantitative", "scale": {"domain": [-10, 100], "nice": false, "zero": false},
                      "axis": {"values": [0, 20, 40, 60, 80, 100], "tickSize": 5, "tickColor": "black", "domainColor": "black", "domainWidth": 1.2, "labelFontSize": 15, "labelColor": "#333", "labelPadding": 3,
                        "title": ["Cell covered area", "(percentage from control PF)"], "titleFontSize": 15, "titleFontWeight": "normal", "titleColor": "#333", "titlePadding": 38, "titleLineHeight": 25}},
                    "y2": {"datum": -10},
                    "stroke": {"field": "series", "type": "nominal", "scale": {"domain": ["AA", "AA 24 h", "HS", "HS 24 h"], "range": ["#5a9099", "#5a9099", "#333333", "#333333"]}, "legend": null}
                  }
                },
                {
                  "transform": [{"filter": "datum.panel === 'B'"}, {"aggregate": [{"op": "count", "as": "n"}]}],
                  "mark": {"type": "rule", "color": "black", "strokeWidth": 1.2},
                  "encoding": {"y": {"datum": 0}}
                },
                {
                  "transform": [
                    {"filter": "datum.panel === 'B' && isValid(datum.value)"},
                    {"window": [{"op": "row_number", "as": "rank"}, {"op": "lag", "field": "value", "as": "prev"}, {"op": "lead", "field": "value", "as": "next"}], "groupby": ["group", "series"], "sort": [{"field": "value", "order": "descending"}]},
                    {"calculate": "((isValid(datum.prev) && datum.prev - datum.value < 3.2) || (isValid(datum.next) && datum.value - datum.next < 3.2)) ? [0, -1, 1][datum.rank % 3] : 0", "as": "lane"},
                    {"calculate": "indexof(['AA', 'AA 24 h', 'HS', 'HS 24 h'], datum.series) + 0.19 * datum.lane", "as": "slot"}
                  ],
                  "mark": {"type": "point", "opacity": 1, "strokeWidth": 1.3, "size": 64},
                  "encoding": {
                    "x": {"field": "group", "type": "nominal", "sort": ["Eos", "Serum", "Eos + serum"]},
                    "xOffset": {"field": "slot", "type": "quantitative", "scale": {"domain": [-0.5, 3.5], "range": [0, 141.33], "nice": false, "zero": false}},
                    "y": {"field": "value", "type": "quantitative"},
                    "shape": {"field": "series", "type": "nominal", "scale": {"domain": ["AA", "AA 24 h", "HS", "HS 24 h"], "range": ["circle", "circle", "square", "square"]}, "legend": null},
                    "fill": {"field": "series", "type": "nominal", "scale": {"domain": ["AA", "AA 24 h", "HS", "HS 24 h"], "range": ["transparent", "#0d5562", "transparent", "#111111"]}, "legend": null},
                    "stroke": {"field": "series", "type": "nominal", "scale": {"domain": ["AA", "AA 24 h", "HS", "HS 24 h"], "range": ["#3f7f8a", "#0d5562", "#222222", "#111111"]}, "legend": null}
                  }
                },
                {
                  "transform": [{"filter": "datum.panel === 'B' && isValid(datum.mean)"}],
                  "mark": {"type": "rule", "strokeWidth": 1.5},
                  "encoding": {
                    "x": {"field": "group", "type": "nominal", "sort": ["Eos", "Serum", "Eos + serum"]},
                    "xOffset": {"field": "series", "type": "nominal", "scale": {"type": "band", "domain": ["AA", "AA 24 h", "HS", "HS 24 h"], "paddingInner": 0.236, "paddingOuter": 0.118}},
                    "y": {"field": "lower", "type": "quantitative"},
                    "y2": {"field": "upper"},
                    "color": {"field": "series", "type": "nominal", "scale": {"domain": ["AA", "AA 24 h", "HS", "HS 24 h"], "range": ["#3a7a85", "#0d5562", "#222222", "#111111"]}, "legend": null}
                  }
                },
                {
                  "transform": [{"filter": "datum.panel === 'B' && isValid(datum.mean)"}, {"fold": ["lower", "upper"], "as": ["end", "bound"]}],
                  "mark": {"type": "tick", "thickness": 1.5, "size": 13, "opacity": 1},
                  "encoding": {
                    "x": {"field": "group", "type": "nominal", "sort": ["Eos", "Serum", "Eos + serum"]},
                    "xOffset": {"field": "series", "type": "nominal", "scale": {"type": "band", "domain": ["AA", "AA 24 h", "HS", "HS 24 h"], "paddingInner": 0.236, "paddingOuter": 0.118}},
                    "y": {"field": "bound", "type": "quantitative"},
                    "color": {"field": "series", "type": "nominal", "legend": null}
                  }
                },
                {
                  "transform": [{"filter": "datum.panel === 'B'"}, {"joinaggregate": [{"op": "max", "field": "value", "as": "top"}], "groupby": ["group", "series"]}, {"filter": "isValid(datum.mean)"}],
                  "mark": {"type": "text", "text": "*", "dy": -15, "fontSize": 11, "color": "#555"},
                  "encoding": {
                    "x": {"field": "group", "type": "nominal", "sort": ["Eos", "Serum", "Eos + serum"]},
                    "xOffset": {"field": "series", "type": "nominal", "scale": {"type": "band", "domain": ["AA", "AA 24 h", "HS", "HS 24 h"], "paddingInner": 0.236, "paddingOuter": 0.118}},
                    "y": {"field": "top", "type": "quantitative"}
                  }
                },
                {
                  "transform": [{"filter": "datum.panel === 'B'"}, {"joinaggregate": [{"op": "max", "field": "value", "as": "top"}], "groupby": ["group", "series"]}, {"filter": "isValid(datum.mean) && datum.sig !== ''"}],
                  "mark": {"type": "text", "dy": -33, "fontSize": 16, "fontStyle": "italic", "color": "#333"},
                  "encoding": {
                    "x": {"field": "group", "type": "nominal", "sort": ["Eos", "Serum", "Eos + serum"]},
                    "xOffset": {"field": "series", "type": "nominal", "scale": {"type": "band", "domain": ["AA", "AA 24 h", "HS", "HS 24 h"], "paddingInner": 0.236, "paddingOuter": 0.118}},
                    "y": {"field": "top", "type": "quantitative"},
                    "text": {"field": "sig"}
                  }
                }
              ]
            },
            {
              "width": 492,
              "height": {"step": 25},
              "data": {"name": "design"},
              "mark": {"type": "text", "fontSize": 15, "color": "#333"},
              "encoding": {
                "x": {"field": "group", "type": "nominal", "sort": ["Eos", "Serum", "Eos + serum"], "scale": {"type": "band", "paddingInner": 0.1735, "paddingOuter": 0.0253}, "axis": null},
                "xOffset": {"field": "series", "type": "nominal", "scale": {"type": "band", "domain": ["AA", "AA 24 h", "HS", "HS 24 h"], "paddingInner": 0.236, "paddingOuter": 0.118}},
                "y": {"field": "factor", "type": "nominal", "sort": ["Eosinophil", "Subjects’ serum"], "scale": {"type": "point", "padding": 0.5},
                  "axis": {"title": null, "domain": false, "ticks": false, "labelAlign": "left", "labelPadding": 173, "labelFontSize": 15, "labelColor": "#222"}},
                "text": {"field": "sign"}
              }
            }
          ]
        },
        {
          "spacing": 29,
          "vconcat": [
            {
              "width": 500,
              "height": {"step": 31},
              "data": {"name": "legend"},
              "transform": [{"filter": "datum.panel === 'B'"}],
              "encoding": {
                "y": {"field": "item", "type": "ordinal", "scale": {"type": "point", "padding": 0.5}, "axis": null},
                "x": {"datum": 0, "type": "quantitative", "scale": {"domain": [0, 1]}, "axis": null}
              },
              "layer": [
                {
                  "mark": {"type": "point", "opacity": 1, "strokeWidth": 1.3, "size": 40},
                  "encoding": {
                    "shape": {"field": "series", "type": "nominal", "scale": {"domain": ["AA", "AA 24 h", "HS", "HS 24 h"], "range": ["circle", "circle", "square", "square"]}, "legend": null},
                    "fill": {"field": "series", "type": "nominal", "scale": {"domain": ["AA", "AA 24 h", "HS", "HS 24 h"], "range": ["transparent", "#0d5562", "transparent", "#111111"]}, "legend": null},
                    "stroke": {"field": "series", "type": "nominal", "scale": {"domain": ["AA", "AA 24 h", "HS", "HS 24 h"], "range": ["#3f7f8a", "#0d5562", "#222222", "#111111"]}, "legend": null}
                  }
                },
                {
                  "mark": {"type": "text", "align": "left", "dx": 28, "fontSize": 14.3, "color": "#222"},
                  "encoding": {"text": {"field": "label"}}
                }
              ]
            },
            {
              "width": 500,
              "height": {"step": 24.3},
              "data": {"name": "notes"},
              "transform": [{"filter": "datum.panel === 'B'"}],
              "encoding": {
                "y": {"field": "line", "type": "ordinal", "scale": {"type": "point", "padding": 0.5, "domain": [0, 1, 2, 3, 4, 5]}, "axis": null},
                "x": {"datum": 0, "type": "quantitative", "scale": {"domain": [0, 1]}, "axis": null}
              },
              "layer": [
                {"transform": [{"filter": "isValid(datum.lead)"}], "mark": {"type": "text", "align": "left", "dx": -2, "fontSize": 14, "fontStyle": "italic", "color": "#222"}, "encoding": {"text": {"field": "lead"}}},
                {"transform": [{"filter": "isValid(datum.p)"}], "mark": {"type": "text", "align": "left", "dx": 13, "fontSize": 14, "fontStyle": "italic", "color": "#222"}, "encoding": {"text": {"field": "p"}}},
                {"transform": [{"filter": "isValid(datum.text)"}], "mark": {"type": "text", "align": "left", "dx": 24, "fontSize": 14, "color": "#222"}, "encoding": {"text": {"field": "text"}}},
                {"transform": [{"filter": "isValid(datum.cont)"}], "mark": {"type": "text", "align": "left", "dx": -3, "fontSize": 14, "color": "#222"}, "encoding": {"text": {"field": "cont"}}}
              ]
            }
          ]
        }
      ]
    }
  ]
}
